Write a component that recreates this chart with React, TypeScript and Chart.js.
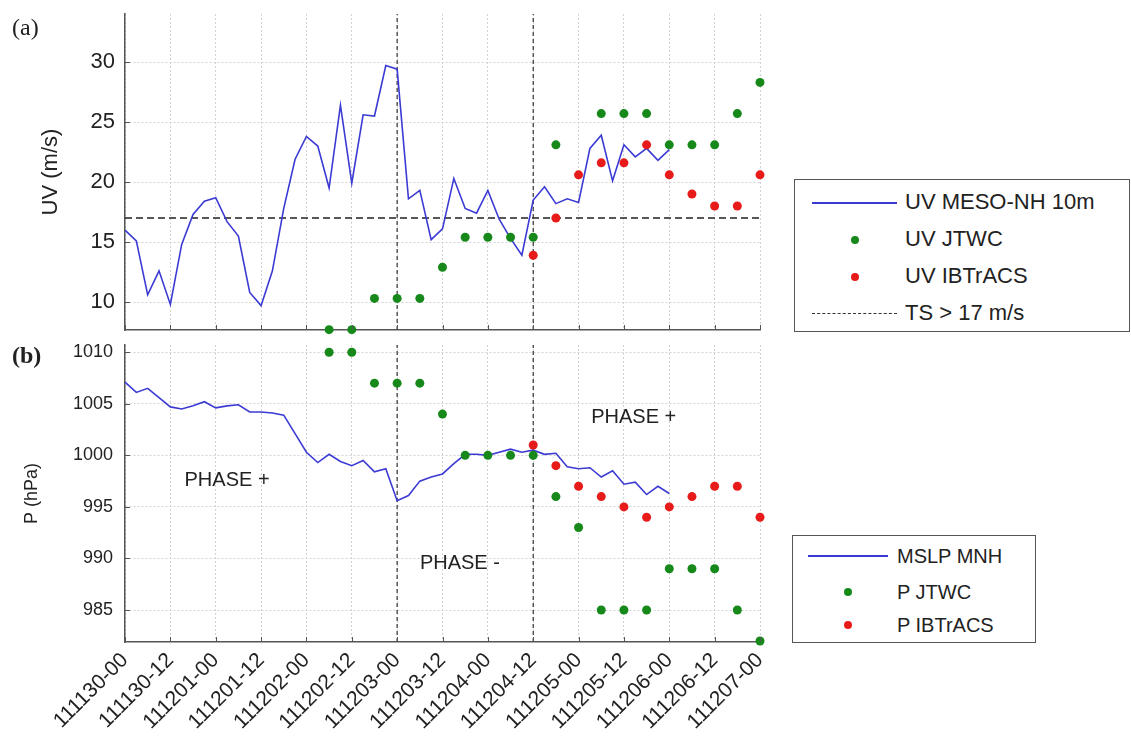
import React, { useEffect, useRef } from "react";
import { Chart, registerables } from "chart.js";

Chart.register(...registerables);

// ---------- data ----------
const xTickLabels = [
  "111130-00", "111130-12", "111201-00", "111201-12", "111202-00",
  "111202-12", "111203-00", "111203-12", "111204-00", "111204-12",
  "111205-00", "111205-12", "111206-00", "111206-12", "111207-00",
];
const xTickStepHours = 12;
const modelStepHours = 3;

// MESO-NH 10 m wind (m/s), every 3 h from 111130-00 to 111206-00
const uvModel = [
  16.0, 15.1, 10.6, 12.6, 9.8, 14.8, 17.3, 18.4, 18.7, 16.7, 15.5, 10.8, 9.7,
  12.6, 17.8, 21.9, 23.8, 23.0, 19.5, 26.4, 19.9, 25.6, 25.5, 29.7, 29.4, 18.6,
  19.3, 15.2, 16.1, 20.3, 17.8, 17.4, 19.3, 16.9, 15.3, 13.9, 18.5, 19.6, 18.2,
  18.6, 18.3, 22.8, 23.9, 20.1, 23.1, 22.1, 22.8, 21.8, 22.7,
];
// MESO-NH MSLP (hPa), every 3 h
const pModel = [
  1007.1, 1006.1, 1006.5, 1005.6, 1004.7, 1004.5, 1004.8, 1005.2, 1004.6,
  1004.8, 1004.9, 1004.2, 1004.2, 1004.1, 1003.9, 1002.1, 1000.3, 999.3,
  1000.1, 999.4, 999.0, 999.5, 998.4, 998.7, 995.6, 996.1, 997.5, 997.9,
  998.2, 999.2, 1000.1, 1000.1, 1000.0, 1000.3, 1000.6, 1000.3, 1000.5,
  1000.1, 1000.2, 998.9, 998.7, 998.8, 997.9, 998.5, 997.2, 997.4, 996.2,
  997.0, 996.3,
];
// best-track times (hours after 111130-00)
const obsHours = [54, 60, 66, 72, 78, 84, 90, 96, 102, 108, 114, 120, 126, 132, 138, 144, 150, 156, 162, 168];
const uvJTWC = [7.7, 7.7, 10.3, 10.3, 10.3, 12.9, 15.4, 15.4, 15.4, 15.4, 23.1, null, 25.7, 25.7, 25.7, 23.1, 23.1, 23.1, 25.7, 28.3];
const uvIBTrACS = [null, null, null, null, null, null, null, null, null, 13.9, 17.0, 20.6, 21.6, 21.6, 23.1, 20.6, 19.0, 18.0, 18.0, 20.6];
const pJTWC = [1010, 1010, 1007, 1007, 1007, 1004, 1000, 1000, 1000, 1000, 996, 993, 985, 985, 985, 989, 989, 989, 985, 982];
const pIBTrACS = [null, null, null, null, null, null, null, null, null, 1001, 999, 997, 996, 995, 994, 995, 996, 997, 997, 994];

const uvTicks = [10, 15, 20, 25, 30];
const pTicks = [985, 990, 995, 1000, 1005, 1010];
const uvRange = [7.67, 34];
const pRange = [981.9, 1010.7];
const tsThreshold = 17;
const phaseBoundaryHours = [72, 108];
const phaseTexts = ["PHASE +", "PHASE -", "PHASE +"];

// ---------- styles ----------
const FONT = "'Liberation Sans', Arial, Helvetica, sans-serif";
const BLUE = "#3b3bd4";
const GREEN = "#16891a";
const RED = "#e81b1b";
const TXT = "#222";
const AXIS = "#555";
const GRID = "#d2d2d2";

const xHours = xTickLabels.map((_, i) => i * xTickStepHours);
const xMax = xHours[xHours.length - 1];

const pts = (xs: number[], ys: (number | null)[]) =>
  ys.map((y, i) => ({ x: xs[i], y })).filter((p) => p.y !== null);
const modelHours = uvModel.map((_, i) => i * modelStepHours);

const innerTicks = {
  id: "innerTicks",
  afterDatasetsDraw(chart: any) {
    const { ctx, chartArea } = chart;
    const xs = chart.scales.x;
    const ys = chart.scales.y;
    ctx.save();
    ctx.strokeStyle = AXIS;
    ctx.lineWidth = 1;
    xs.ticks.forEach((t: any) => {
      const px = Math.round(xs.getPixelForValue(t.value)) + 0.5;
      ctx.beginPath();
      ctx.moveTo(px, chartArea.bottom);
      ctx.lineTo(px, chartArea.bottom - 5);
      ctx.stroke();
    });
    ys.ticks.forEach((t: any) => {
      const py = Math.round(ys.getPixelForValue(t.value)) + 0.5;
      ctx.beginPath();
      ctx.moveTo(chartArea.left, py);
      ctx.lineTo(chartArea.left + 5, py);
      ctx.stroke();
    });
    ctx.restore();
  },
};

const textNotes = {
  id: "textNotes",
  afterDatasetsDraw(chart: any, _args: any, opts: any) {
    const items = (opts && opts.items) || [];
    const { ctx } = chart;
    ctx.save();
    ctx.fillStyle = TXT;
    ctx.font = `20px ${FONT}`;
    ctx.textAlign = "center";
    ctx.textBaseline = "middle";
    items.forEach((it: any) => {
      ctx.fillText(it.text, chart.scales.x.getPixelForValue(it.x), chart.scales.y.getPixelForValue(it.y));
    });
    ctx.restore();
  },
};

function vLines(range: number[]) {
  return phaseBoundaryHours.map((h) => ({
    type: "line" as const,
    data: [
      { x: h, y: range[0] },
      { x: h, y: range[1] },
    ],
    borderColor: "#333",
    borderWidth: 1.2,
    borderDash: [4, 3],
    pointRadius: 0,
    order: 5,
    label: "_v",
  }));
}

function dots(label: string, data: any[], color: string, order: number) {
  return {
    type: "line" as const,
    label,
    data,
    showLine: false,
    pointRadius: 4.5,
    pointBackgroundColor: color,
    pointBorderColor: color,
    pointBorderWidth: 0,
    borderColor: color,
    backgroundColor: color,
    clip: false as any,
    order,
  };
}

function xScale(showLabels: boolean, height: number) {
  return {
    type: "linear" as const,
    min: 0,
    max: xMax,
    afterBuildTicks: (s: any) => {
      s.ticks = xHours.map((v) => ({ value: v }));
    },
    afterFit: (s: any) => {
      s.height = height;
      s.paddingLeft = 0;
      s.paddingRight = 0;
      s.paddingTop = 0;
      s.paddingBottom = 0;
    },
    grid: { color: GRID, lineWidth: 1, drawTicks: false },
    border: { display: true, color: AXIS, width: 1.5, dash: [2, 2] },
    ticks: {
      display: showLabels,
      autoSkip: false,
      maxRotation: 45,
      minRotation: 45,
      padding: 6,
      color: TXT,
      font: { family: FONT, size: 21 },
      callback: (v: any) => xTickLabels[Math.round(Number(v) / xTickStepHours)] ?? "",
    },
  };
}

function yScale(range: number[], ticks: number[], title: string, fontSize: number, titlePad: number, tickPad: number) {
  return {
    type: "linear" as const,
    min: range[0],
    max: range[1],
    afterBuildTicks: (s: any) => {
      s.ticks = ticks.map((v) => ({ value: v }));
    },
    afterFit: (s: any) => {
      s.width = 125;
      s.paddingTop = 0;
      s.paddingBottom = 0;
      s.paddingLeft = 0;
      s.paddingRight = 0;
    },
    grid: { color: GRID, lineWidth: 1, drawTicks: false },
    border: { display: true, color: AXIS, width: 1.5, dash: [2, 2] },
    ticks: {
      padding: tickPad,
      color: TXT,
      font: { family: FONT, size: fontSize },
      callback: (v: any) => String(v),
    },
    title: {
      display: true,
      text: title,
      color: TXT,
      font: { family: FONT, size: fontSize },
      padding: { top: titlePad, bottom: 0 },
    },
  };
}

export default function App() {
  const topRef = useRef<HTMLCanvasElement>(null);
  const botRef = useRef<HTMLCanvasElement>(null);

  useEffect(() => {
    Chart.defaults.font.family = FONT;
    const common = {
      responsive: false,
      animation: false as const,
      events: [] as any[],
      plugins: { legend: { display: false }, tooltip: { enabled: false } },
    };

    const top = new Chart(topRef.current!, {
      type: "line",
      data: {
        datasets: [
          dots("UV IBTrACS", pts(obsHours, uvIBTrACS), RED, 0),
          dots("UV JTWC", pts(obsHours, uvJTWC), GREEN, 1),
          {
            type: "line",
            label: "UV MESO-NH 10m",
            data: pts(modelHours, uvModel),
            borderColor: BLUE,
            borderWidth: 1.6,
            pointRadius: 0,
            tension: 0,
            order: 2,
          },
          {
            type: "line",
            label: "TS > 17 m/s",
            data: [
              { x: 0, y: tsThreshold },
              { x: xMax, y: tsThreshold },
            ],
            borderColor: "#222",
            borderWidth: 1.5,
            borderDash: [7, 4],
            pointRadius: 0,
            order: 4,
          },
          ...vLines(uvRange),
        ] as any,
      },
      options: {
        ...common,
        layout: { padding: { left: 0, right: 40, top: 14, bottom: 10 } },
        scales: {
          x: xScale(false, 0),
          y: yScale(uvRange, uvTicks, "UV (m/s)", 22, 38, 10),
        },
      } as any,
      plugins: [innerTicks],
    });

    const bot = new Chart(botRef.current!, {
      type: "line",
      data: {
        datasets: [
          dots("P IBTrACS", pts(obsHours, pIBTrACS), RED, 0),
          dots("P JTWC", pts(obsHours, pJTWC), GREEN, 1),
          {
            type: "line",
            label: "MSLP MNH",
            data: pts(modelHours, pModel),
            borderColor: BLUE,
            borderWidth: 1.6,
            pointRadius: 0,
            tension: 0,
            order: 2,
          },
          ...vLines(pRange),
        ] as any,
      },
      options: {
        ...common,
        layout: { padding: { left: 0, right: 40, top: 15, bottom: 0 } },
        scales: {
          x: xScale(true, 98),
          y: yScale(pRange, pTicks, "P (hPa)", 18, 21, 12),
        },
        plugins: {
          ...common.plugins,
          textNotes: {
            items: [
              { text: phaseTexts[0], x: 27, y: 997.6 },
              { text: phaseTexts[1], x: 88.6, y: 989.5 },
              { text: phaseTexts[2], x: 134.6, y: 1003.7 },
            ],
          },
        },
      } as any,
      plugins: [innerTicks, textNotes],
    });

    return () => {
      top.destroy();
      bot.destroy();
    };
  }, []);

  const abs = (l: number, t: number, extra: React.CSSProperties = {}): React.CSSProperties => ({
    position: "absolute",
    left: l,
    top: t,
    ...extra,
  });

  const legendRow = (
    yc: number,
    sampleL: number,
    sampleR: number,
    textL: number,
    fontSize: number,
    kind: "line" | "dot" | "dash",
    color: string,
    text: string
  ) => (
    <React.Fragment key={text}>
      {kind === "line" && (
        <div style={abs(sampleL, yc - 1, { width: sampleR - sampleL, height: 0, borderTop: `2px solid ${color}` })} />
      )}
      {kind === "dash" && (
        <div style={abs(sampleL, yc - 1, { width: sampleR - sampleL, height: 0, borderTop: `1.5px dashed ${color}` })} />
      )}
      {kind === "dot" && (
        <div
          style={abs((sampleL + sampleR) / 2 - 4, yc - 4, {
            width: 8,
            height: 8,
            borderRadius: "50%",
            background: color,
          })}
        />
      )}
      <div
        style={abs(textL, yc - fontSize * 0.62, {
          fontFamily: FONT,
          fontSize,
          lineHeight: `${Math.round(fontSize * 1.2)}px`,
          color: TXT,
          whiteSpace: "nowrap",
        })}
      >
        {text}
      </div>
    </React.Fragment>
  );

  return (
    <div style={{ position: "absolute", left: 0, top: 0, width: 1131, height: 740, background: "#fff", overflow: "hidden" }}>
      <canvas ref={topRef} width={800} height={340} style={abs(0, 0, { width: 800, height: 340 })} />
      <canvas ref={botRef} width={800} height={410} style={abs(0, 330, { width: 800, height: 410 })} />

      <div style={abs(12, 14, { fontFamily: "'Liberation Serif', 'DejaVu Serif', serif", fontSize: 24, color: TXT })}>(a)</div>
      <div
        style={abs(12, 342, {
          fontFamily: "'Liberation Serif', 'DejaVu Serif', serif",
          fontSize: 24,
          fontWeight: "bold",
          color: TXT,
        })}
      >
        (b)
      </div>

      <div style={abs(794, 179, { width: 334, height: 151, border: `1.5px solid ${AXIS}`, background: "#fff" })} />
      {legendRow(203, 812, 897, 905, 22, "line", BLUE, "UV MESO-NH 10m")}
      {legendRow(240, 812, 897, 905, 22, "dot", GREEN, "UV JTWC")}
      {legendRow(277, 812, 897, 905, 22, "dot", RED, "UV IBTrACS")}
      {legendRow(314, 812, 897, 905, 22, "dash", "#333", "TS > 17 m/s")}

      <div style={abs(792, 535, { width: 242, height: 106, border: `1.5px solid ${AXIS}`, background: "#fff" })} />
      {legendRow(556, 808, 888, 897, 20, "line", BLUE, "MSLP MNH")}
      {legendRow(592, 808, 888, 897, 20, "dot", GREEN, "P JTWC")}
      {legendRow(625, 808, 888, 897, 20, "dot", RED, "P IBTrACS")}
    </div>
  );
}
